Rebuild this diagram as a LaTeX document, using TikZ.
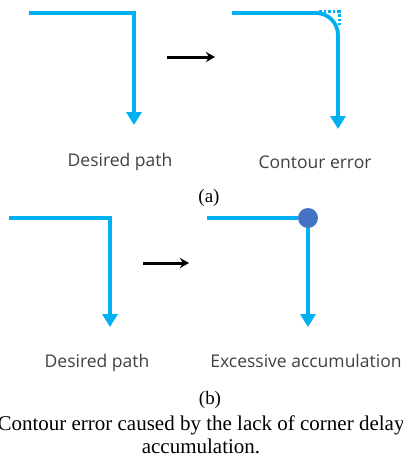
\documentclass[tikz,border=0pt]{standalone}
\usepackage{fontspec}
\setmainfont{Liberation Serif}
\newfontfamily\labelfont{Open Sans}
\usetikzlibrary{arrows.meta,positioning}
\definecolor{pathblue}{RGB}{0,176,240}
\definecolor{dotblue}{RGB}{68,114,196}
\definecolor{labelgrey}{RGB}{64,64,64}
\tikzset{
  track/.style={draw=pathblue,line width=3.8pt,-{Triangle[width=15pt,length=13pt]}},
  moveto/.style={draw=black,line width=3pt,-{Stealth[length=9pt,width=10pt]}},
  pathlabel/.style={font=\labelfont\fontsize{17.5}{20}\selectfont,text=labelgrey,inner sep=0pt},
  sublabel/.style={font=\fontsize{19}{21}\selectfont,inner sep=0pt},
  caption/.style={font=\fontsize{21}{23}\selectfont,inner sep=0pt,align=center}
}
\begin{document}
\begin{tikzpicture}[x=1pt,y=-1pt]
  \useasboundingbox (0,0) rectangle (403,459);
  % (a) desired path and contour error
  \coordinate (a1start) at (29,13);
  \coordinate (a1corner) at (134,13);
  \coordinate (a1end) at (134,125);
  \draw [track] (a1start)--(a1corner)--(a1end);
  \coordinate (aarrowstart) at (167,57);
  \coordinate (aarrowend) at (215,57);
  \draw [moveto] (aarrowstart)--(aarrowend);
  \coordinate (a2start) at (232,13);
  \coordinate (a2corner) at (338,13);
  \coordinate (a2end) at (338,129);
  \draw [track,rounded corners=22pt] (a2start)--(a2corner)--(a2end);
  \draw [pathblue,line width=2.6pt,dotted] (319,11.5)--(339.5,11.5)--(339.5,25);
  \node [pathlabel] (a1label) at (120,162) {Desired path};
  \node [pathlabel] (a2label) at (315,162) {Contour error};
  \node [sublabel] (alabel) at (209,198) {(a)};
  % (b) desired path and excessive accumulation
  \coordinate (b1start) at (9,218);
  \coordinate (b1corner) at (110,218);
  \coordinate (b1end) at (110,327);
  \draw [track] (b1start)--(b1corner)--(b1end);
  \coordinate (barrowstart) at (143,263);
  \coordinate (barrowend) at (189,263);
  \draw [moveto] (barrowstart)--(barrowend);
  \coordinate (b2start) at (207,218);
  \coordinate (b2end) at (308,327);
  \node [circle,fill=dotblue,minimum size=20pt,inner sep=0pt] (b2corner) at (308,218) {};
  \draw [track,-] (b2start)--(b2corner.west);
  \draw [track] (b2corner.south)--(b2end);
  \node [pathlabel] (b1label) at (97,363) {Desired path};
  \node [pathlabel] (b2label) at (306,361) {Excessive accumulation};
  \node [sublabel] (blabel) at (210,400) {(b)};
  \node [caption] (figcaption) at (201,435) {Contour error caused by the lack of corner delay\\accumulation.};
\end{tikzpicture}
\end{document}
